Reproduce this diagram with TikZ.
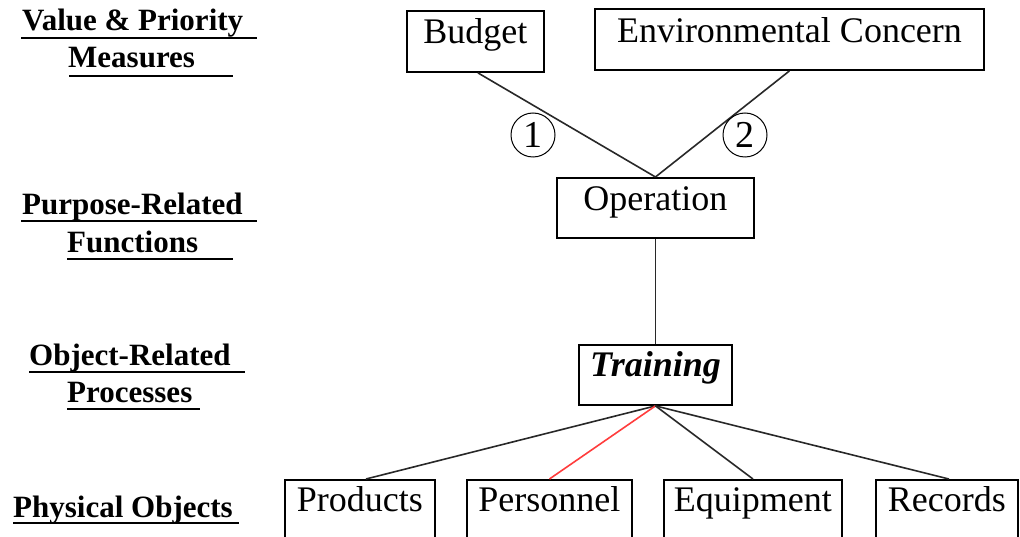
\documentclass[tikz,border=0pt]{standalone}
\usepackage{fontspec}
\setmainfont{Liberation Serif}
\usetikzlibrary{calc}
\definecolor{redline}{RGB}{255,60,60}
\definecolor{connc}{RGB}{40,40,40}
\begin{document}
\begin{tikzpicture}[x=1pt,y=-1pt,
  box/.style={draw, line width=1.9pt, inner sep=0pt, rectangle, anchor=north west, font=\fontsize{36}{40}\selectfont},
  conn/.style={line width=1.6pt, draw=connc},
  lvl/.style={anchor=base west, inner sep=0pt, font=\fontsize{31}{34}\selectfont\bfseries},
  uline/.style={line width=2.6pt},
  num/.style={circle, draw, line width=1pt, minimum size=44pt, inner sep=0pt, font=\fontsize{38}{40}\selectfont}]
\useasboundingbox (0,0) rectangle (1020,537);
\clip (0,0) rectangle (1020,537);
\fill[white] (0,0) rectangle (1020,537);

% level labels
\node[lvl] (l1a) at (22,31) {Value \& Priority};
\node[lvl] (l1b) at (68,68) {Measures};
\node[lvl] (l2a) at (22,215) {Purpose-Related};
\node[lvl] (l2b) at (67,253) {Functions};
\node[lvl] (l3a) at (29,365) {Object-Related};
\node[lvl] (l3b) at (67,402) {Processes};
\node[lvl] (l4) at (13,517) {Physical Objects};
\draw[uline] (21,38) -- (257,38);
\draw[uline] (69,76) -- (233,76);
\draw[uline] (21,221) -- (257,221);
\draw[uline] (67,259) -- (233,259);
\draw[uline] (29,372) -- (245,372);
\draw[uline] (67,409) -- (200,409);
\draw[uline] (13,523) -- (239,523);

% boxes
\node[box, minimum width=137pt, text height=33pt, text depth=28pt] (budget) at (406,10) {Budget};
\node[box, minimum width=389pt, text height=34pt, text depth=27pt] (env) at (594,8) {Environmental Concern};
\node[box, minimum width=197pt, text height=33pt, text depth=27pt] (op) at (556,177) {Operation};
\node[box, minimum width=153pt, text height=32pt, text depth=28pt, font=\fontsize{36}{40}\selectfont\bfseries\itshape] (train) at (578,344) {Training};
\node[box, minimum width=150pt, text height=32pt, text depth=40pt] (prod) at (284,479) {Products};
\node[box, minimum width=165pt, text height=32pt, text depth=40pt] (pers) at (466,479) {Personnel};
\node[box, minimum width=178pt, text height=32pt, text depth=40pt] (equip) at (663,479) {Equipment};
\node[box, minimum width=142pt, text height=32pt, text depth=40pt] (rec) at (875,479) {Records};

% connectors
\draw[conn] ([xshift=2.5pt]budget.south) -- (op.north);
\draw[conn] (env.south) -- (op.north);
\draw[conn] (op.south) -- (train.north);
\draw[conn] (train.south) -- ([xshift=6pt]prod.north);
\draw[conn, draw=redline] (train.south) -- (pers.north);
\draw[conn] (train.south) -- (equip.north);
\draw[conn] (train.south) -- ([xshift=2pt]rec.north);

% circled numbers
\node[num] (c1) at (533,135) {1};
\node[num] (c2) at (745,135) {2};
\end{tikzpicture}
\end{document}
